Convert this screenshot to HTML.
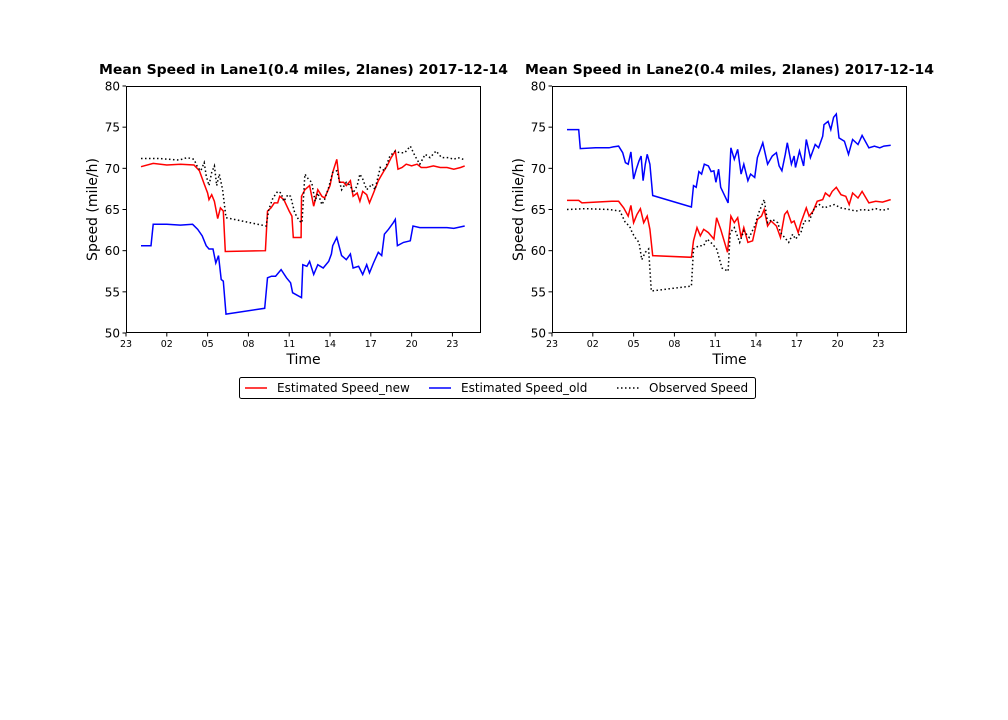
<!DOCTYPE html>
<html><head><meta charset="utf-8"><style>
body{margin:0;background:#fff;}
svg{display:block;font-family:"DejaVu Sans","Liberation Sans",sans-serif;}
</style></head><body>
<svg id="fig" width="1008" height="720" viewBox="0 0 1008 720" xmlns="http://www.w3.org/2000/svg"></svg>
<script>
const xTickLabels=["23","02","05","08","11","14","17","20","23"];
const xTickHours=[-1,2,5,8,11,14,17,20,23];
const yTicks=[50,55,60,65,70,75,80];
const titles=["Mean Speed in Lane1(0.4 miles, 2lanes) 2017-12-14","Mean Speed in Lane2(0.4 miles, 2lanes) 2017-12-14"];

const L_new_h=[0.1,1,2,3,4,4.4,4.75,5,5.1,5.3,5.5,5.74,5.94,6.15,6.3,9.25,9.4,9.66,9.9,10.15,10.3,10.6,11,11.2,11.3,11.87,11.9,12.15,12.5,12.8,13.1,13.4,13.6,14,14.2,14.5,14.7,15,15.2,15.5,15.7,16,16.2,16.4,16.7,16.9,17.2,17.55,17.9,18.2,18.5,18.8,19,19.3,19.6,20,20.4,20.7,21.1,21.6,22.1,22.6,23.1,23.6,23.9];
const L_new_v=[70.2,70.6,70.4,70.5,70.4,69.7,68.1,67,66.2,66.8,66,63.9,65.2,64.8,59.9,60,64.8,65.2,65.8,65.8,66.6,66.2,64.8,64.2,61.6,61.6,66.6,67.4,67.9,65.4,67.4,66.6,66.4,67.9,69.5,71.1,68.3,68.3,67.9,68.5,66.6,67,66,67.2,66.8,65.8,67,68.5,69.5,70.3,71.3,72.1,69.9,70.1,70.5,70.3,70.5,70.1,70.1,70.3,70.1,70.1,69.9,70.1,70.3];
const L_old_h=[0.1,0.84,1,2,3,3.9,4.27,4.6,4.9,5.1,5.4,5.6,5.8,6,6.15,6.35,9.2,9.4,9.7,10,10.4,10.8,11.1,11.25,11.9,12,12.3,12.5,12.8,13.1,13.5,13.9,14.1,14.2,14.5,14.85,15.2,15.5,15.7,16.1,16.4,16.7,16.9,17.2,17.55,17.8,18,18.3,18.65,18.8,18.95,19.4,19.9,20.1,20.6,21.1,21.6,22.1,22.6,23.1,23.9];
const L_old_v=[60.6,60.6,63.2,63.2,63.1,63.2,62.6,61.8,60.6,60.2,60.2,58.5,59.4,56.5,56.3,52.3,53,56.7,56.9,56.9,57.7,56.7,56.1,54.9,54.3,58.3,58.1,58.7,57.1,58.3,57.9,58.7,59.6,60.6,61.6,59.4,58.9,59.6,57.9,58.1,57.1,58.3,57.3,58.5,59.8,59.4,62,62.6,63.4,63.8,60.6,61,61.2,63,62.8,62.8,62.8,62.8,62.8,62.7,63];
const L_obs_h=[0.1,1.45,2.9,3.5,4,4.27,4.5,4.75,4.9,5.1,5.3,5.5,5.67,5.86,6.1,6.35,9.3,9.5,9.8,10.15,10.4,10.6,10.9,11.1,11.4,11.75,11.94,12.15,12.4,12.65,12.9,13.1,13.4,13.6,13.9,14.2,14.5,14.85,15.2,15.5,15.7,16,16.2,16.4,16.7,17.1,17.3,17.7,18,18.4,18.8,19.1,19.5,19.9,20.25,20.6,21,21.35,21.8,22.2,22.7,23.1,23.4,23.8];
const L_obs_v=[71.2,71.2,71,71.3,71.1,70.1,69.7,70.7,69.1,67.9,69.5,70.3,67.9,69.3,67.4,64,63,65,66.4,67.2,67,66,66.8,66.6,64.6,63.6,63.4,69.3,68.7,68.3,66,67,65.6,66.2,67.7,69.5,69.7,67.4,68.3,67.9,67,67.9,69.3,68.7,67.4,68.1,67.4,70.1,69.7,71.5,72.1,71.9,71.9,72.7,71.5,70.5,71.7,71.3,72.1,71.3,71.3,71.1,71.3,71.1];

const R_new_h=[0.1,0.96,1.2,2.2,3.4,3.9,4.27,4.6,4.8,5,5.25,5.5,5.74,6,6.2,6.4,9.25,9.4,9.66,9.9,10.15,10.5,10.9,11.1,11.4,11.9,12.15,12.4,12.65,12.9,13.1,13.4,13.75,14.1,14.4,14.6,14.85,15.1,15.5,15.8,16.1,16.3,16.6,16.8,17.1,17.3,17.7,17.9,18.2,18.5,18.9,19.1,19.4,19.6,19.9,20.25,20.6,20.85,21.1,21.5,21.8,22.3,22.8,23.3,23.9];
const R_new_v=[66.1,66.1,65.8,65.9,66,66,65.2,64.2,65.5,63.4,64.4,65.1,63.4,64.2,62.6,59.4,59.2,61.2,62.8,61.8,62.6,62.2,61.4,64,62.6,59.8,64.2,63.4,64,61.6,62.8,61,61.2,63.8,64.2,65,63,63.6,63,61.6,64.4,64.8,63.4,63.6,62.2,63.4,65.2,64.2,64.8,66,66.2,67,66.6,67.2,67.7,66.8,66.6,65.6,67,66.4,67.2,65.8,66,65.9,66.2];
const R_old_h=[0.1,0.96,1.08,2.2,3.2,3.5,3.9,4.2,4.4,4.6,4.8,5,5.2,5.4,5.55,5.7,5.86,6,6.2,6.4,9.25,9.4,9.6,9.8,10,10.2,10.5,10.7,10.9,11.05,11.25,11.4,11.95,12.15,12.4,12.65,12.9,13.1,13.4,13.6,13.9,14.1,14.5,14.85,15.2,15.5,15.7,15.9,16.15,16.3,16.6,16.8,16.9,17.2,17.5,17.7,18,18.35,18.6,18.9,19,19.3,19.5,19.7,19.9,20.1,20.5,20.8,21.1,21.5,21.8,22.3,22.7,23.1,23.4,23.9];
const R_old_v=[74.7,74.7,72.4,72.5,72.5,72.6,72.7,71.9,70.7,70.5,72,68.7,69.9,70.9,71.5,68.5,70.5,71.7,70.5,66.7,65.3,67.9,67.7,69.6,69.3,70.5,70.3,69.6,69.7,68.3,69.9,67.7,65.8,72.5,71.1,72.3,69.3,70.5,68.5,69.3,68.9,71.3,73.1,70.5,71.5,71.9,70.3,69.7,71.7,73.1,70.5,71.5,70.1,72.1,70.3,73.5,71.3,72.9,72.5,73.9,75.3,75.7,74.7,76.2,76.6,73.7,73.3,71.7,73.5,72.9,74,72.5,72.7,72.5,72.7,72.8];
const R_obs_h=[0.1,1.45,3.2,4,4.4,4.7,4.9,5.1,5.4,5.6,5.86,6.1,6.3,9.25,9.4,9.8,10.15,10.4,10.8,11.1,11.5,11.95,12.1,12.4,12.8,13.1,13.5,13.9,14.2,14.6,14.85,15.2,15.6,15.8,16.1,16.4,16.7,16.9,17.3,17.55,17.9,18.3,18.65,19,19.4,19.75,20.25,20.85,21.35,21.8,22.3,22.8,23.3,23.8];
const R_obs_v=[65,65.1,65,64.8,63.4,63,62.2,61.6,61,58.9,59.8,60.2,55.1,55.7,60.2,60.6,60.6,61.4,60.8,60.2,57.9,57.5,62.2,62.8,61,62.4,61.6,63,64.6,66.2,63.4,63.8,63.4,62.2,61.6,61,62,61.4,62.2,63.6,63.6,65.2,65.6,65.2,65.4,65.6,65.2,65,64.8,65,64.9,65.1,64.9,65.1];

const NS="http://www.w3.org/2000/svg";
const svg=document.getElementById('fig');
function mk(tag,attrs,parent){const e=document.createElementNS(NS,tag);for(const k in attrs)e.setAttribute(k,attrs[k]);(parent||svg).appendChild(e);return e;}
const panels=[
 {x0:126,lbl:"left",series:[[L_new_h,L_new_v,"red",""],[L_old_h,L_old_v,"blue",""],[L_obs_h,L_obs_v,"black","1.5,2.5"]]},
 {x0:552,lbl:"right",series:[[R_new_h,R_new_v,"red",""],[R_old_h,R_old_v,"blue",""],[R_obs_h,R_obs_v,"black","1.5,2.5"]]}];
const W=355,T=86,B=333,XMIN=-1,XMAX=25.1,YMIN=50,YMAX=80;
const seriesNames=["estimated-speed-new-line","estimated-speed-old-line","observed-speed-line"];
panels.forEach((p,pi)=>{
 const g=mk('g',{});
 
 
 const X=h=>p.x0+(h-XMIN)/(XMAX-XMIN)*W;
 const Y=v=>B-(v-YMIN)/(YMAX-YMIN)*(B-T);
 const clip=mk('clipPath',{id:'c'+pi},g);mk('rect',{x:p.x0,y:T,width:W,height:B-T},clip);
 p.series.forEach((s,si)=>{
  const pts=s[0].map((h,i)=>X(h).toFixed(1)+','+Y(s[1][i]).toFixed(1)).join(' ');
  const pl=mk('polyline',{points:pts,fill:'none',stroke:s[2],'stroke-width':1.5,'stroke-dasharray':s[3]||'none','clip-path':'url(#c'+pi+')'},g);
  
  
 });
 const fr=mk('rect',{x:p.x0+0.5,y:T+0.5,width:W-1,height:B-T-1,fill:'none',stroke:'#000','stroke-width':1},g);
 
 
 yTicks.forEach(v=>{
  mk('line',{x1:p.x0-3.5,x2:p.x0,y1:Y(v),y2:Y(v),stroke:'#000'},g);
  const t=mk('text',{x:p.x0-6,y:Y(v)+4.5,'text-anchor':'end','font-size':12},g);t.textContent=v;
  
  
 });
 xTickHours.forEach((h,i)=>{
  mk('line',{x1:X(h),x2:X(h),y1:B,y2:B+3.5,stroke:'#000'},g);
  const t=mk('text',{x:X(h),y:B+14,'text-anchor':'middle','font-size':9.5},g);t.textContent=xTickLabels[i];
  
  
 });
 const tt=mk('text',{x:p.x0+W/2,y:74,'text-anchor':'middle','font-size':13.5,'font-weight':'bold',textLength:409,lengthAdjust:'spacingAndGlyphs'},g);tt.textContent=titles[pi];
 
 
 const xl=mk('text',{x:p.x0+W/2,y:364,'text-anchor':'middle','font-size':14},g);xl.textContent="Time";
 
 
 const yl=mk('text',{x:0,y:0,'text-anchor':'middle','font-size':14,transform:`translate(${p.x0-29},${(T+B)/2}) rotate(-90)`},g);yl.textContent="Speed (mile/h)";
 
 
});
const lg=mk('g',{});


mk('rect',{x:239.5,y:377.5,width:516,height:21,rx:2,fill:'#fff',stroke:'#000','stroke-width':1},lg);
const legItems=[["Estimated Speed_new","red","",245],["Estimated Speed_old","blue","",429],["Observed Speed","black","1.5,2.5",617]];
legItems.forEach(it=>{
 const e=mk('g',{},lg);
 
 
 mk('line',{x1:it[3],x2:it[3]+22,y1:388,y2:388,stroke:it[1],'stroke-width':1.5,'stroke-dasharray':it[2]||'none'},e);
 const t=mk('text',{x:it[3]+32,y:392,'font-size':12},e);t.textContent=it[0];
});
</script>
</body></html>
